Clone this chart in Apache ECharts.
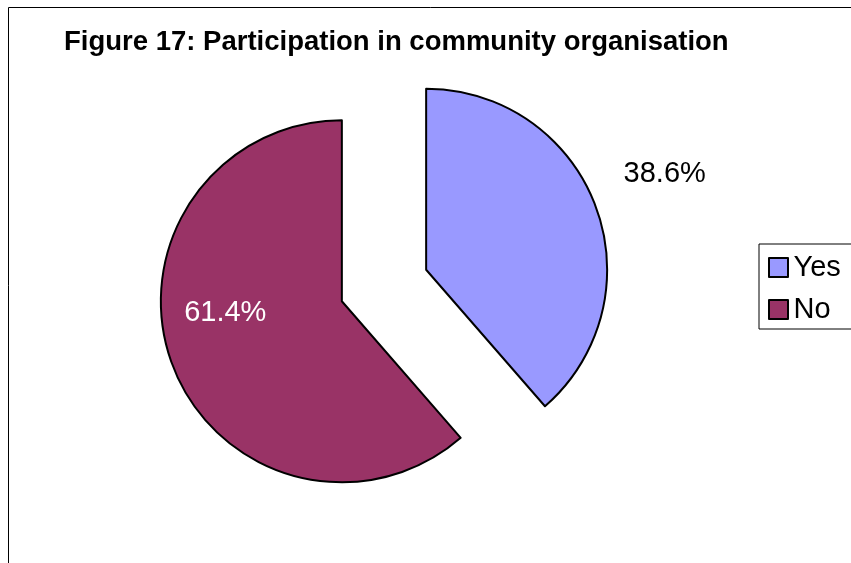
<!DOCTYPE html>
<html>
<head>
<meta charset="utf-8">
<script src="https://cdn.jsdelivr.net/npm/echarts@6/dist/echarts.min.js"></script>
<style>
  html, body { margin: 0; padding: 0; background: #fff; }
  #chart { width: 851px; height: 563px; }
</style>
</head>
<body>
<div id="chart"></div>
<script>
// Share of respondents taking part in a community organisation
const categories = ['Yes', 'No'];
const shares = [38.6, 61.4];
const sliceColors = ['#9999FF', '#993366'];
const labelColors = ['#000000', '#FFFFFF'];

// nudges applied to the default inside label position, per slice
const labelShift = [[151, -63], [-29, -21]];

const chart = echarts.init(document.getElementById('chart'), null, { renderer: 'canvas' });

const pieData = categories.map((name, i) => ({
  name: name,
  value: shares[i],
  selected: true,
  itemStyle: { color: sliceColors[i] },
  label: { color: labelColors[i] }
}));

chart.setOption({
  animation: false,
  backgroundColor: '#ffffff',
  title: {
    text: 'Figure 17: Participation in community organisation',
    left: 59,
    top: 23,
    textStyle: {
      fontFamily: 'Liberation Sans, Arial, sans-serif',
      fontWeight: 'bold',
      fontSize: 27.5,
      color: '#000'
    }
  },
  legend: {
    orient: 'vertical',
    left: 759,
    top: 244,
    padding: [9, 40, 5, 9],
    itemGap: 13,
    itemWidth: 20,
    itemHeight: 19,
    icon: 'path://M0,0h10v10h-10z',
    borderColor: '#000',
    borderWidth: 1,
    selectedMode: false,
    textStyle: {
      fontFamily: 'Liberation Sans, Arial, sans-serif',
      fontSize: 29,
      color: '#000'
    },
    data: categories
  },
  graphic: [{
    type: 'rect',
    silent: true,
    shape: { x: 8.5, y: 7.5, width: 1200, height: 1200 },
    style: { fill: 'none', stroke: '#000', lineWidth: 1 }
  }],
  series: [{
    type: 'pie',
    center: [384, 285.5],
    radius: 181,
    startAngle: 90,
    clockwise: true,
    selectedMode: 'multiple',
    selectedOffset: 45,
    avoidLabelOverlap: false,
    silent: true,
    emphasis: { disabled: true },
    itemStyle: { borderColor: '#000', borderWidth: 2 },
    select: { itemStyle: { borderColor: '#000', borderWidth: 2 } },
    label: {
      show: true,
      position: 'inside',
      formatter: p => p.value.toFixed(1) + '%',
      fontFamily: 'Liberation Sans, Arial, sans-serif',
      fontSize: 29
    },
    labelLine: { show: false },
    labelLayout: function (params) {
      const s = labelShift[params.dataIndex];
      return { dx: s[0], dy: s[1] };
    },
    data: pieData
  }]
});
</script>
</body>
</html>
